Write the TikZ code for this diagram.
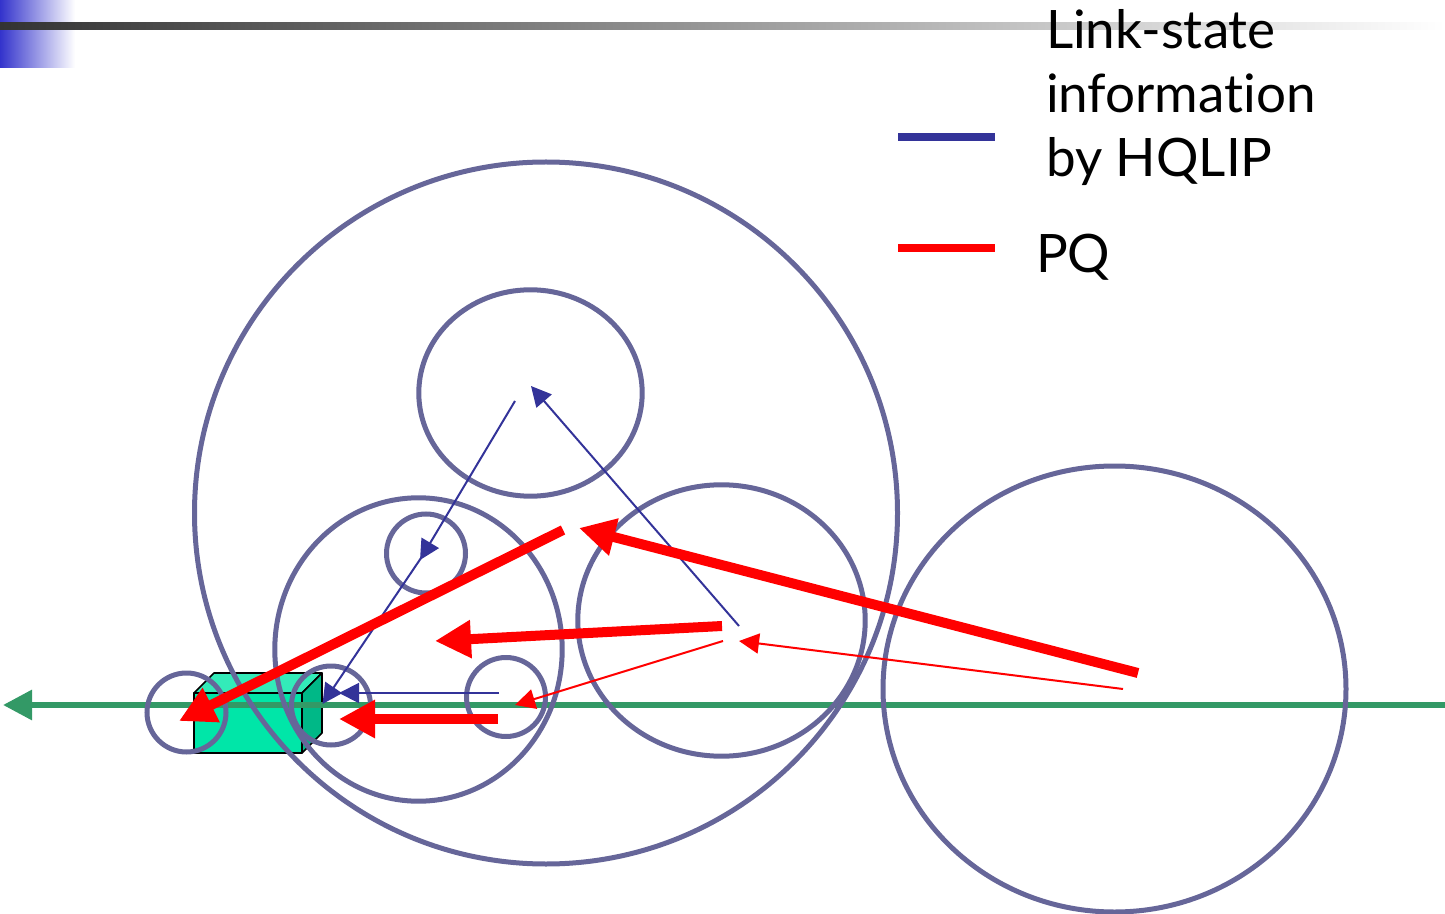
\documentclass[tikz,border=0pt]{standalone}
\usepackage{fontspec}
\setmainfont{Lato}[Ligatures=NoCommon]
\usetikzlibrary{arrows.meta,shapes.geometric}
\definecolor{ring}{HTML}{666699}
\definecolor{linkblue}{HTML}{333399}
\definecolor{busgreen}{HTML}{339966}
\definecolor{boxfront}{HTML}{00E6A8}
\definecolor{boxtop}{HTML}{33EBB9}
\definecolor{boxside}{HTML}{00B887}
\definecolor{headblue}{HTML}{3333CC}
\definecolor{headdark}{HTML}{333333}
\tikzset{
  x=0.5pt,y=-0.5pt,
  ringnode/.style={ellipse,draw=ring,line width=2.5pt,inner sep=0pt,outer sep=0pt,minimum width=#1},
  thinblue/.style={draw=linkblue,line width=1pt,-{Triangle[length=10pt,width=10pt,fill=linkblue]}},
  thinred/.style={draw=red,line width=1pt,-{Triangle[length=10pt,width=10pt,fill=red]}},
  thickred/.style={draw=red,line width=5pt,-{Triangle[length=18pt,width=18pt,fill=red]}},
  legendtext/.style={anchor=base west,inner sep=0pt,outer sep=0pt,font=\fontsize{26.5pt}{32pt}\selectfont},
  boxedge/.style={draw=black,line width=0.8pt,line join=round},
}
\begin{document}
\begin{tikzpicture}
\useasboundingbox (0,0) rectangle (1445,914);
% header decoration
\shade[left color=headblue, right color=white] (0,0) rectangle (75,68);
\shade[left color=headdark, right color=white] (0,23) rectangle (1445,30);
% box
\path[fill=boxfront,boxedge] (194,693) rectangle (302,753);
\path[fill=boxtop,boxedge] (194,693) -- (214,673) -- (322,673) -- (302,693) -- cycle;
\path[fill=boxside,boxedge] (302,693) -- (322,673) -- (322,733) -- (302,753) -- cycle;
% bus
\coordinate (busR) at (1445,705);
\coordinate (busL) at (3,705);
\draw[busgreen,line width=3pt,-{Triangle[length=14.5pt,width=14.5pt,fill=busgreen]}] (busR) -- (busL);
% rings
\node[ringnode=351.5pt,minimum height=351pt] (big) at (546,513) {};
\node[ringnode=111.7pt,minimum height=103.2pt] (top) at (530.5,393) {};
\node[ringnode=143.7pt,minimum height=151.7pt] (left) at (418.5,649.5) {};
\node[ringnode=143.7pt,minimum height=135.7pt] (right) at (721.5,620.5) {};
\node[ringnode=231.5pt,minimum height=223pt] (far) at (1114.5,689) {};
\node[ringnode=39.5pt,minimum height=39.5pt] (s1) at (426,553.5) {};
\node[ringnode=39.5pt,minimum height=39.5pt] (s2) at (506,697) {};
\node[ringnode=39.5pt,minimum height=39.5pt] (s3) at (331,705.5) {};
\node[ringnode=39.5pt,minimum height=39.5pt] (s4) at (186.5,712.5) {};
% blue link-state arrows
\coordinate (b1a) at (515,401); \coordinate (b1b) at (420,560);
\coordinate (b2a) at (421,558); \coordinate (b2b) at (322.5,704);
\coordinate (b3a) at (499,693); \coordinate (b3b) at (339,693);
\coordinate (b4a) at (739,626); \coordinate (b4b) at (531,386);
\draw[thinblue] (b1a) -- (b1b);
\draw[thinblue] (b2a) -- (b2b);
\draw[thinblue] (b3a) -- (b3b);
\draw[thinblue] (b4a) -- (b4b);
% red PQ arrows
\coordinate (r1a) at (1138,673); \coordinate (r1b) at (579,528);
\coordinate (r2a) at (563,530); \coordinate (r2b) at (179,721);
\coordinate (r3a) at (722,626); \coordinate (r3b) at (435,641);
\coordinate (r4a) at (498,719); \coordinate (r4b) at (339,719);
\coordinate (r5a) at (1123,689); \coordinate (r5b) at (739,641);
\coordinate (r6a) at (723,641); \coordinate (r6b) at (515,705);
\draw[thinred] (r5a) -- (r5b);
\draw[thinred] (r6a) -- (r6b);
\draw[thickred] (r1a) -- (r1b);
\draw[thickred] (r2a) -- (r2b);
\draw[thickred] (r3a) -- (r3b);
\draw[thickred] (r4a) -- (r4b);
% legend
\coordinate (la) at (898,137); \coordinate (lb) at (995,137);
\coordinate (lc) at (898,248); \coordinate (ld) at (995,248);
\draw[linkblue,line width=4pt] (la) -- (lb);
\draw[red,line width=4pt] (lc) -- (ld);
\node[legendtext] (t1) at (1046,49) {Link-state};
\node[legendtext] (t2) at (1046,113) {information};
\node[legendtext] (t3) at (1046,177) {by HQLIP};
\node[legendtext] (t4) at (1036,273) {PQ};
\end{tikzpicture}
\end{document}
